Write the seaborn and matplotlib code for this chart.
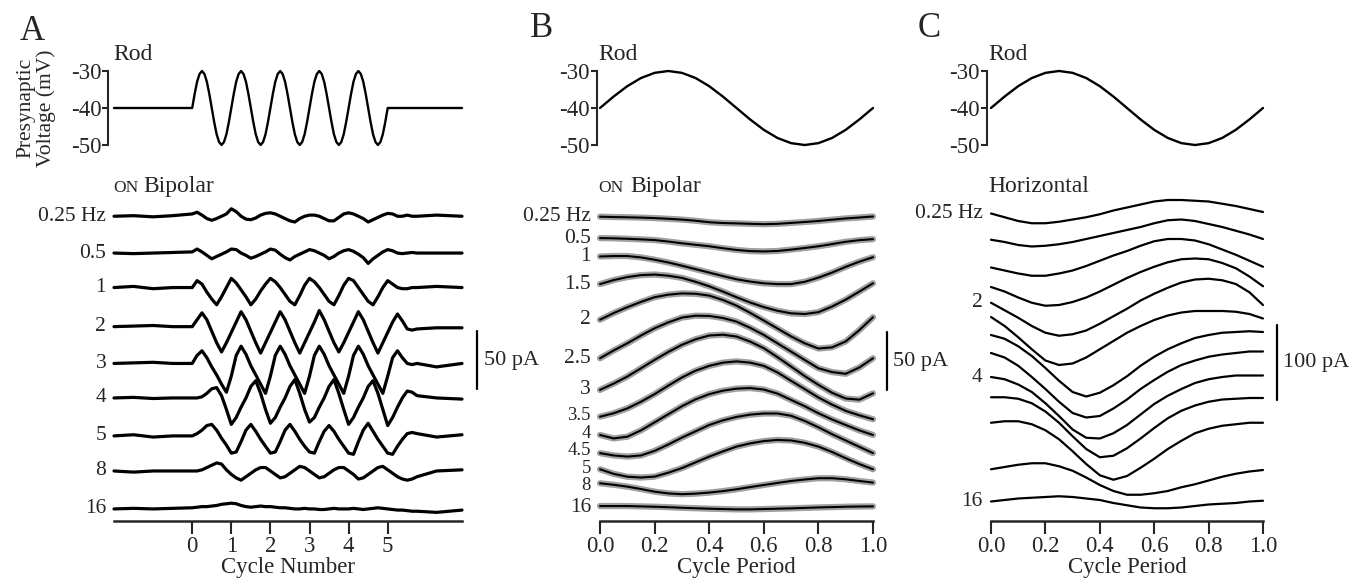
import pandas as pd
import seaborn as sns
import matplotlib.pyplot as plt

# ---------------- data ----------------
# Panel A: time in stimulus cycles, ON bipolar currents (pA)
cycle_a = [-2.0, -1.5, -1.0, -0.5,
           0.0, 0.125, 0.25, 0.375, 0.5, 0.625, 0.75, 0.875,
           1.0, 1.125, 1.25, 1.375, 1.5, 1.625, 1.75, 1.875,
           2.0, 2.125, 2.25, 2.375, 2.5, 2.625, 2.75, 2.875,
           3.0, 3.125, 3.25, 3.375, 3.5, 3.625, 3.75, 3.875,
           4.0, 4.125, 4.25, 4.375, 4.5, 4.625, 4.75, 4.875,
           5.0, 5.125, 5.25, 5.375, 5.5, 5.625, 5.75,
           6.25, 6.9]

# Panel A rod voltage (mV), sampled every 1/16 cycle during the stimulus
cycle_rod = [-2.0,
             0.0, 0.0625, 0.125, 0.1875, 0.25, 0.3125, 0.375, 0.4375,
             0.5, 0.5625, 0.625, 0.6875, 0.75, 0.8125, 0.875, 0.9375,
             1.0, 1.0625, 1.125, 1.1875, 1.25, 1.3125, 1.375, 1.4375,
             1.5, 1.5625, 1.625, 1.6875, 1.75, 1.8125, 1.875, 1.9375,
             2.0, 2.0625, 2.125, 2.1875, 2.25, 2.3125, 2.375, 2.4375,
             2.5, 2.5625, 2.625, 2.6875, 2.75, 2.8125, 2.875, 2.9375,
             3.0, 3.0625, 3.125, 3.1875, 3.25, 3.3125, 3.375, 3.4375,
             3.5, 3.5625, 3.625, 3.6875, 3.75, 3.8125, 3.875, 3.9375,
             4.0, 4.0625, 4.125, 4.1875, 4.25, 4.3125, 4.375, 4.4375,
             4.5, 4.5625, 4.625, 4.6875, 4.75, 4.8125, 4.875, 4.9375,
             5.0, 6.9]
rod_a = [-40,
         -40, -36.2, -32.9, -30.8, -30, -30.8, -32.9, -36.2,
         -40, -43.8, -47.1, -49.2, -50, -49.2, -47.1, -43.8,
         -40, -36.2, -32.9, -30.8, -30, -30.8, -32.9, -36.2,
         -40, -43.8, -47.1, -49.2, -50, -49.2, -47.1, -43.8,
         -40, -36.2, -32.9, -30.8, -30, -30.8, -32.9, -36.2,
         -40, -43.8, -47.1, -49.2, -50, -49.2, -47.1, -43.8,
         -40, -36.2, -32.9, -30.8, -30, -30.8, -32.9, -36.2,
         -40, -43.8, -47.1, -49.2, -50, -49.2, -47.1, -43.8,
         -40, -36.2, -32.9, -30.8, -30, -30.8, -32.9, -36.2,
         -40, -43.8, -47.1, -49.2, -50, -49.2, -47.1, -43.8,
         -40, -40]

freqs_a = ['0.25 Hz', '0.5', '1', '2', '3', '4', '5', '8', '16']

bip_a_025 = [0, 0.5, -0.5, 0.5,
             2, 3.5, 1, -2, -3.5, -2, 0, 2,
             6.5, 4, 0, -2.5, -3, -1.5, 1, 2.5,
             3, 2, 0, -2, -4, -5, -2, 0,
             1, 1, 0, -2, -4, -4, -1, 2,
             3, 2, 0, -2, -5, -3, -1, 1,
             2.5, 2, 0, 0, 1, 0, 0,
             1, 0]
bip_a_05 = [0, -0.5, 0, 0.5,
            1, 3.5, 1, -2, -5, -3, -1, 1,
            3.5, 3, 0, -2, -4.5, -3, -1, 1,
            3.5, 2.5, -1, -4, -6, -3, -1, 1,
            3, 2, 0, -2, -5, -3, 0, 2,
            3, 1.5, -1, -4, -9, -5, -2, 1,
            3, 2, 0, -0.5, 0, 0.5, 0,
            0, 0]
bip_a_1 = [0, 1, -1, 0,
           0, 6, 3, -4, -10, -15, -8, 0,
           8, 4, -2, -8, -15, -10, -3, 3,
           8, 5, 0, -6, -12, -15, -7, 2,
           8, 5, 0, -6, -12, -15, -7, 2,
           8, 6, 0, -6, -12, -15, -8, 0,
           6, 3, 0, -1, -1, 0, 0,
           1, 0]
bip_a_2 = [0, 0.5, 1, 0,
           0, 6, 12, 6, -4, -14, -22, -14,
           -5, 4, 13, 6, -4, -14, -23, -14,
           -5, 4, 13, 6, -4, -14, -23, -14,
           -5, 4, 14, 6, -4, -14, -22, -14,
           -5, 4, 13, 6, -4, -14, -23, -14,
           -5, 4, 11, 5, -2, -3, -2,
           -1, -1]
bip_a_3 = [0, 0.5, 1, 0,
           0, 7, 11, 5, -3, -10, -18, -25,
           -11, 7, 15, 8, -2, -10, -18, -26,
           -11, 7, 15, 8, -2, -10, -18, -26,
           -11, 7, 15, 8, -2, -10, -18, -26,
           -11, 7, 15, 8, -2, -10, -18, -26,
           -11, 5, 11, 5, 0, -1, 0,
           -3, 0]
bip_a_4 = [0, 0.5, -0.5, 0,
           0, 0, 1, 4, 8, 9, 2, -10,
           -23, -17, -8, 0, 10, 15, 4, -10,
           -22, -17, -8, 0, 10, 16, 4, -10,
           -21, -17, -8, 0, 10, 16, 4, -10,
           -23, -17, -8, 0, 10, 15, 4, -10,
           -24, -17, -8, 0, 6, 5, 2,
           0, -1]
bip_a_5 = [0, 1, -1, 0,
           0, 2, 5, 9, 10, 5, -2, -8,
           -15, -14, -5, 5, 10, 4, -3, -9,
           -15, -14, -5, 5, 10, 4, -3, -9,
           -14, -15, -5, 4, 9, 4, -3, -9,
           -15, -16, -5, 5, 11, 4, -3, -9,
           -15, -16, -9, -3, 2, 3, 2,
           -1, 1]
bip_a_8 = [0, -1, 0, 0,
           0, 0, 1, 3, 5, 7, 6, 1,
           -3, -6, -8, -5, -2, 1, 3, 3,
           0, -3, -6, -5, -2, 1, 4, 3,
           0, -3, -6, -5, -2, 1, 3, 3,
           0, -3, -7, -6, -3, 0, 3, 4,
           1, -2, -5, -7, -8, -7, -5,
           0, 1]
bip_a_16 = [0, 0.5, 0, 0.5,
            1, 1.5, 2, 2, 2.5, 3, 4, 4.5,
            5, 4.5, 3, 2, 1.5, 2, 2.5, 2,
            2, 1.5, 1, 1, 0.5, 0, 0, 0.5,
            0, 0, -0.5, -0.5, 0, 0.5, 0, 0,
            0, 0.5, 0, -0.5, 0, 0.5, 1, 0.5,
            0, -0.5, -1, -1, -1.5, -2, -2,
            -3, -1]

# Panels B and C: one cycle period, rod voltage (mV)
phase = [0.0, 0.05, 0.1, 0.15, 0.2, 0.25, 0.3, 0.35, 0.4, 0.45, 0.5,
         0.55, 0.6, 0.65, 0.7, 0.75, 0.8, 0.85, 0.9, 0.95, 1.0]
rod_cycle = [-40, -36.9, -34.1, -31.9, -30.5, -30, -30.5, -31.9, -34.1, -36.9, -40,
             -43.1, -45.9, -48.1, -49.5, -50, -49.5, -48.1, -45.9, -43.1, -40]

freqs_bc = ['0.25 Hz', '0.5', '1', '1.5', '2', '2.5', '3', '3.5', '4', '4.5', '5', '8', '16']

# Panel B: ON bipolar current averaged over one period (pA)
bip_b = [
    [0, -0.3, -0.5, -0.8, -1.2, -1.8, -2.5, -3.5, -4.8, -5.5, -5.8, -6.2, -6.5, -6.2, -5.4, -4.6, -3.7, -2.6, -1.5, -0.7, 0.2],
    [0, -0.2, -0.6, -1.1, -1.7, -3, -4.5, -5.8, -7.1, -8.8, -10.3, -11.3, -11.6, -11.2, -10, -8.6, -7.1, -5.2, -3.2, -1.8, -0.9],
    [0, 0.4, 0.4, -0.8, -2.8, -5.2, -8, -11, -14, -17, -19.8, -21.8, -23.3, -24, -24, -22, -18.4, -14, -9, -4.5, -0.6],
    [0, 3.5, 6.1, 7.8, 8.3, 7.3, 5.4, 2, -1.9, -6.5, -11.4, -16, -20, -23.2, -25.4, -26, -24.4, -19.5, -13.5, -6.5, 0.7],
    [0, 5.8, 10.9, 15.5, 19.6, 21.8, 22.9, 22.6, 21, 17.2, 12.3, 6, -0.7, -7.6, -14.5, -20.5, -25, -24, -18.9, -9, 2.2],
    [0, 6.8, 13, 19.8, 26.1, 31.2, 35.4, 37, 36.8, 35, 31.9, 26.5, 20.3, 13, 5.8, -1.5, -8.7, -12, -13.5, -8, 0],
    [0, 5.5, 11.6, 18.8, 26.1, 33, 39.2, 44, 47.3, 48, 46.4, 42, 36.3, 28.5, 20.3, 12, 4.4, -2.5, -7.5, -8.5, -3],
    [0, 3, 7.2, 13, 19.6, 27, 34.1, 40, 44.2, 47, 48.1, 47, 44.2, 38.5, 31.2, 24, 16.7, 10.5, 5.1, 1.2, -2.2],
    [0, -3, -1.5, 4, 11, 18, 25, 31, 35.5, 38.5, 40.3, 40.8, 39.5, 36, 30.5, 25, 18.9, 13.5, 8.7, 4, 0],
    [0, -2, -3, -2, 2, 7.5, 13.5, 19, 24.5, 28.5, 31.5, 33.5, 34.5, 34.5, 32.5, 28, 22.5, 16.5, 11, 5.5, 0],
    [0, -4, -6.5, -7.2, -6.4, -3, 1, 6, 11, 15.5, 19.7, 22.5, 24.5, 25.5, 25, 23, 19.7, 15, 9.6, 4.5, 0],
    [0, -1.3, -2.9, -5, -7.3, -8.8, -9.5, -9, -8.1, -6.8, -5.2, -3.3, -1.5, 0.3, 2, 3.3, 4.4, 4.4, 3.5, 2, 0.6],
    [0, 0, 0, -0.3, -0.6, -1, -1.5, -1.9, -2.3, -2.6, -2.9, -2.9, -2.6, -2.3, -2, -1.6, -1.2, -0.9, -0.6, -0.4, -0.3],
]

# Panel C: horizontal cell current averaged over one period (pA)
hor_c = [
    [0, -5, -10, -13, -13, -11, -8, -5, -1, 4, 8, 12, 16, 18, 18, 17, 16, 13, 10, 6, 2],
    [0, -3, -7, -9, -8, -6, -3, 1, 5, 9, 13, 17, 22, 26, 27, 25, 21, 17, 12, 7, 1],
    [0, -4, -8, -11, -11, -8, -4, 2, 9, 16, 22, 29, 35, 38, 38, 36, 31, 24, 17, 9, 1],
    [0, -6, -14, -21, -25, -24, -20, -14, -6, 3, 12, 20, 27, 33, 37, 38, 37, 32, 25, 14, 1],
    [0, -10, -20, -31, -40, -44, -42, -37, -28, -18, -8, 3, 12, 20, 27, 31, 32, 30, 25, 14, -3],
    [0, -12, -27, -43, -58, -64, -62, -54, -43, -32, -21, -12, -4, 2, 6, 8, 8, 8, 7, 4, -2],
    [0, -5, -15, -28, -44, -61, -76, -82, -77, -67, -55, -41, -29, -19, -11, -4, 0, 3, 4, 5, 4],
    [0, -6, -17, -32, -48, -65, -80, -86, -84, -74, -62, -48, -36, -25, -16, -10, -5, -2, 0, 2, 2],
    [0, -3, -10, -20, -35, -52, -70, -81, -82, -75, -64, -50, -36, -25, -16, -8, -3, 0, 2, 2, 2],
    [0, 0, -2, -8, -19, -34, -52, -69, -80, -78, -68, -55, -41, -28, -18, -11, -6, -3, -2, -1, -1],
    [0, 2, 2, -2, -10, -22, -38, -55, -70, -76, -71, -60, -48, -35, -24, -14, -8, -4, -2, 0, 0],
    [0, 3, 6, 8, 8, 4, -2, -11, -21, -29, -34, -34, -32, -29, -24, -20, -15, -10, -6, -3, -1],
    [0, 2, 4, 5, 6, 7, 6, 4, 2, -2, -5, -8, -9, -9, -8, -6, -4, -3, -2, 0, 1],
]
labels_c = ['0.25 Hz', '', '', '', '2', '', '', '', '4', '', '', '', '16']

# vertical stacking of the traces (pA above the time axis)
offsets_a = [265, 233, 203, 169, 137, 107, 74, 43.5, 10.5]
offsets_b = [264.6, 246, 230, 206, 175, 141.5, 114, 90.7, 74.8, 59, 45, 32.8, 13]
offsets_c = [410, 375, 338, 312, 291, 272, 248, 224, 192, 165, 131, 69, 26]
# label heights in panel B, spread a little where the traces crowd together
label_pos_b = [264.6, 246, 230, 206, 175, 141.5, 114, 91.5, 76, 61, 46, 31, 12]

volt_ticks = [-30, -40, -50]

# ---------------- figure ----------------
sns.set_style('ticks')
plt.rcParams['font.family'] = ['Liberation Serif', 'DejaVu Serif']
plt.rcParams['axes.unicode_minus'] = False

W, H = 1350, 583
fig = plt.figure(figsize=(W / 100, H / 100), dpi=100)
fig.patch.set_facecolor('white')


def px_box(x0, y0, x1, y1):
    return [x0 / W, 1 - y1 / H, (x1 - x0) / W, (y1 - y0) / H]


def fig_text(x, y, s, **kw):
    fig.text(x / W, 1 - y / H, s, **kw)


def stack(x, traces, offsets, names):
    rows = []
    for name, vals, off in zip(names, traces, offsets):
        for xv, v in zip(x, vals):
            rows.append((name, xv, v + off))
    return pd.DataFrame(rows, columns=['trace', 'x', 'y'])


def style_rod(ax, xlim, shift):
    ax.set_xlim(*xlim)
    ax.set_ylim(-50, -30)
    for s in ['top', 'right', 'bottom']:
        ax.spines[s].set_visible(False)
    ax.spines['left'].set_position(('outward', shift))
    ax.spines['left'].set_linewidth(1.5)
    ax.set_xticks([])
    ax.set_yticks(volt_ticks)
    ax.set_yticklabels([str(v) for v in volt_ticks])
    ax.tick_params(axis='y', length=4, width=1.5, labelsize=16.5, pad=1)
    ax.set_xlabel('')
    ax.set_ylabel('')
    ax.patch.set_alpha(0)


def style_traces(ax, xlim, ymax, ticks, ticklabels, xlabel):
    ax.set_xlim(*xlim)
    ax.set_ylim(0, ymax)
    for s in ['top', 'right', 'left']:
        ax.spines[s].set_visible(False)
    ax.spines['bottom'].set_linewidth(1.8)
    ax.set_yticks([])
    ax.set_xticks(ticks)
    ax.set_xticklabels(ticklabels)
    ax.tick_params(axis='x', length=9, width=1.5, labelsize=16.5, pad=2)
    ax.set_xlabel(xlabel, fontsize=16.5, labelpad=0)
    ax.set_ylabel('')
    ax.patch.set_alpha(0)


period_ticks = [0.0, 0.2, 0.4, 0.6, 0.8, 1.0]
period_labels = [f'{t:.1f}' for t in period_ticks]

# ----- panel A -----
ax = fig.add_axes(px_box(114, 71, 462, 145))
sns.lineplot(x=cycle_rod, y=rod_a, ax=ax, color='k', linewidth=1.7, clip_on=False)
style_rod(ax, (-2.0, 6.9), 4)

ax = fig.add_axes(px_box(114, 195, 462, 521))
df_a = stack(cycle_a, [bip_a_025, bip_a_05, bip_a_1, bip_a_2, bip_a_3, bip_a_4,
                       bip_a_5, bip_a_8, bip_a_16], offsets_a, freqs_a)
sns.lineplot(data=df_a, x='x', y='y', units='trace', estimator=None,
             color='k', linewidth=2.3, ax=ax, clip_on=False)
style_traces(ax, (-2.0, 6.9), 326 / 1.15, [0, 1, 2, 3, 4, 5],
             ['0', '1', '2', '3', '4', '5'], 'Cycle Number')
for lab, off in zip(freqs_a, offsets_a):
    ax.text(-2.2, off, lab, ha='right', va='center', fontsize=15.5)
ax.plot([7.28, 7.28], [115, 165], color='k', lw=1.6, clip_on=False)
ax.text(7.46, 140, '50 pA', ha='left', va='center', fontsize=16)

# ----- panel B -----
ax = fig.add_axes(px_box(600, 71, 873, 145))
sns.lineplot(x=phase, y=rod_cycle, ax=ax, color='k', linewidth=1.7, clip_on=False)
style_rod(ax, (0, 1), 2.5)

ax = fig.add_axes(px_box(600, 195, 873, 521))
df_b = stack(phase, bip_b, offsets_b, freqs_bc)
sns.lineplot(data=df_b, x='x', y='y', units='trace', estimator=None,
             color='#a0a0a0', linewidth=4.5, ax=ax, clip_on=False)
sns.lineplot(data=df_b, x='x', y='y', units='trace', estimator=None,
             color='k', linewidth=1.5, ax=ax, clip_on=False)
style_traces(ax, (0, 1), 326 / 1.15, period_ticks, period_labels, 'Cycle Period')
for i, (lab, pos) in enumerate(zip(freqs_bc, label_pos_b)):
    size = 13.5 if 7 <= i <= 11 else 15.5
    ax.text(-0.033, pos, lab, ha='right', va='center', fontsize=size)
ax.plot([1.051, 1.051], [114, 164], color='k', lw=1.6, clip_on=False)
ax.text(1.073, 139, '50 pA', ha='left', va='center', fontsize=16)

# ----- panel C -----
ax = fig.add_axes(px_box(991, 71, 1263, 145))
sns.lineplot(x=phase, y=rod_cycle, ax=ax, color='k', linewidth=1.7, clip_on=False)
style_rod(ax, (0, 1), 3)

ax = fig.add_axes(px_box(991, 195, 1263, 521))
df_c = stack(phase, hor_c, offsets_c, freqs_bc)
sns.lineplot(data=df_c, x='x', y='y', units='trace', estimator=None,
             color='k', linewidth=1.6, ax=ax, clip_on=False)
style_traces(ax, (0, 1), 326 / 0.75, period_ticks, period_labels, 'Cycle Period')
for lab, off in zip(labels_c, offsets_c):
    if lab:
        ax.text(-0.03, off, lab, ha='right', va='center', fontsize=15.5)
ax.plot([1.051, 1.051], [161, 261], color='k', lw=1.6, clip_on=False)
ax.text(1.074, 211, '100 pA', ha='left', va='center', fontsize=16)

# ----- text labels -----
fig_text(20, 40, 'A', fontsize=25, va='baseline')
fig_text(530, 37, 'B', fontsize=25, va='baseline')
fig_text(918, 37, 'C', fontsize=25, va='baseline')
for x in [113, 598, 988]:
    fig_text(x, 60, 'Rod', fontsize=17, va='baseline')
fig_text(113, 192, 'ON', fontsize=12.5, va='baseline')
fig_text(143, 192, 'Bipolar', fontsize=17, va='baseline')
fig_text(598, 192, 'ON', fontsize=12.5, va='baseline')
fig_text(630, 192, 'Bipolar', fontsize=17, va='baseline')
fig_text(988, 192, 'Horizontal', fontsize=17, va='baseline')
fig_text(36, 108, 'Presynaptic\nVoltage (mV)', rotation=90, ha='center',
         va='center', fontsize=15.5, linespacing=1.05)

fig.savefig('out.png', dpi=100)
